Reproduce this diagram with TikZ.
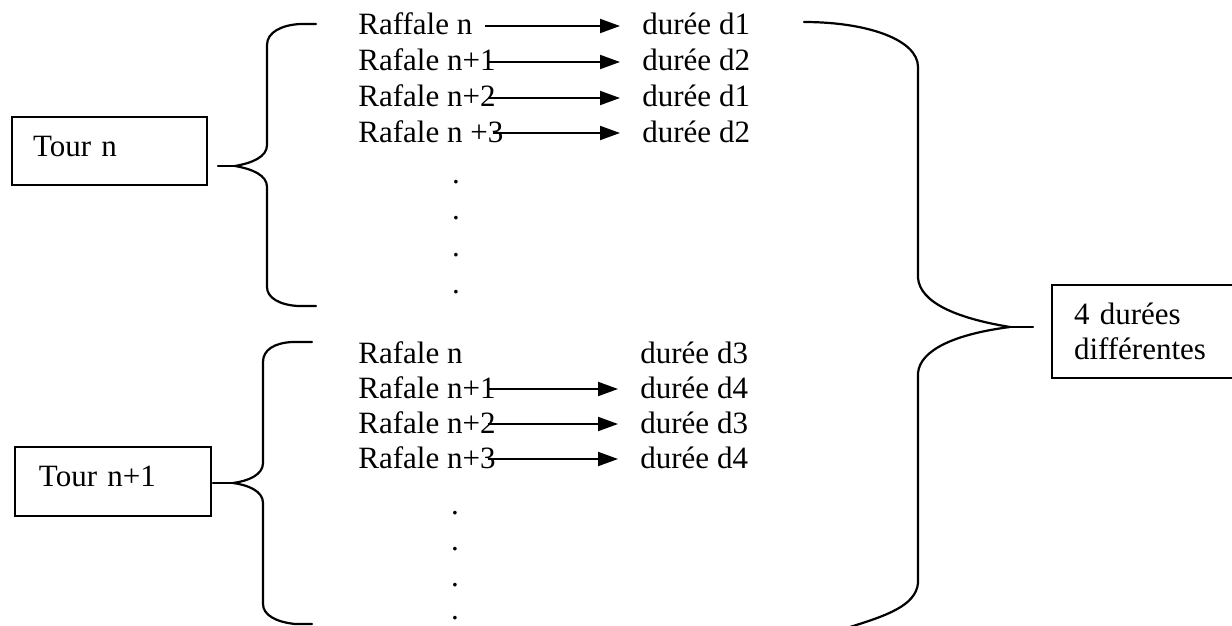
\documentclass[tikz,border=0pt]{standalone}
\usepackage{fontspec}
\setmainfont{Liberation Serif}
\usetikzlibrary{arrows.meta}
\begin{document}
\begin{tikzpicture}[x=0.5pt,y=-0.5pt,
  txt/.style={font=\fontsize{15.5pt}{17.5pt}\selectfont, inner sep=0pt, anchor=base west},
  dotnode/.style={font=\fontsize{15.5pt}{17.5pt}\selectfont, inner sep=0pt, anchor=base},
  arr/.style={line width=1pt, -{Triangle[length=10pt,width=7pt]}, shorten >=11pt},
  bracepath/.style={line width=1.1pt, line join=round, line cap=round},
  tourbox/.style={draw, line width=1pt, anchor=north west, align=left,
    font=\fontsize{15.5pt}{17.5pt}\selectfont, text height=10pt, text depth=5pt}]
\clip (0,0) rectangle (1232,626);
\fill[white] (0,0) rectangle (1232,626);

% boxes
\node[tourbox, minimum height=34pt, inner xsep=10.5pt, text width=76.5pt] (tn) at (11,116) {Tour n};
\node[tourbox, minimum height=34.5pt, inner xsep=12pt, text width=74pt] (tn1) at (14,446) {Tour n+1};
\node[draw, line width=1pt, anchor=north west, align=left, minimum height=46.5pt,
  inner xsep=11pt, text width=90pt, font=\fontsize{15.5pt}{17.5pt}\selectfont] (dd) at (1051,284) {4 durées\\différentes};

% upper group
\node[txt] (r1) at (358,35) {Raffale n};
\node[txt] (r2) at (358,71) {Rafale n+1};
\node[txt] (r3) at (358,107) {Rafale n+2};
\node[txt] (r4) at (358,142) {Rafale n +3};
\node[txt] (d1) at (642,35) {durée d1};
\node[txt] (d2) at (642,71) {durée d2};
\node[txt] (d3) at (642,107) {durée d1};
\node[txt] (d4) at (642,142) {durée d2};
\coordinate (s1) at (485,26);
\coordinate (s2) at (488,62);
\coordinate (s3) at (488,98);
\coordinate (s4) at (493,133);
\draw[arr] (s1) -- (s1 -| d1.west);
\draw[arr] (s2) -- (s2 -| d2.west);
\draw[arr] (s3) -- (s3 -| d3.west);
\draw[arr] (s4) -- (s4 -| d4.west);
\node[dotnode] (p1) at (456,183.5) {.};
\node[dotnode] (p2) at (456,219.5) {.};
\node[dotnode] (p3) at (456,256.5) {.};
\node[dotnode] (p4) at (456,293.5) {.};

% lower group
\node[txt] (q1) at (358,363) {Rafale n};
\node[txt] (q2) at (358,398) {Rafale n+1};
\node[txt] (q3) at (358,433) {Rafale n+2};
\node[txt] (q4) at (358,468) {Rafale n+3};
\node[txt] (e1) at (640,363) {durée d3};
\node[txt] (e2) at (640,398) {durée d4};
\node[txt] (e3) at (640,433) {durée d3};
\node[txt] (e4) at (640,468) {durée d4};
\coordinate (t2) at (488,389);
\coordinate (t3) at (488,424);
\coordinate (t4) at (488,459);
\draw[arr] (t2) -- (t2 -| e2.west);
\draw[arr] (t3) -- (t3 -| e3.west);
\draw[arr] (t4) -- (t4 -| e4.west);
\node[dotnode] (o1) at (455,514.5) {.};
\node[dotnode] (o2) at (455,550.5) {.};
\node[dotnode] (o3) at (455,586.5) {.};
\node[dotnode] (o4) at (455,619) {.};

% brace for Tour n
\coordinate (b1tip) at (235,166);
\coordinate (b1end) at (218,166);
\draw[bracepath] (316,24) -- (300,24) .. controls (282,25) and (267,32) .. (267,45)
  -- (267,145) .. controls (267,157) and (252,163) .. (b1tip)
  .. controls (252,169) and (267,175) .. (267,187)
  -- (267,287) .. controls (267,298) and (280,305) .. (298,306) -- (316,306);
\draw[bracepath] (b1tip) -- (b1end);

% brace for Tour n+1
\coordinate (b2tip) at (233,483);
\coordinate (b2end) at (213,483);
\draw[bracepath] (312,342) -- (292,342) .. controls (274,343) and (263,350) .. (263,362)
  -- (263,463) .. controls (263,475) and (248,481) .. (b2tip)
  .. controls (248,485) and (263,491) .. (263,503)
  -- (263,604) .. controls (263,615) and (276,622) .. (295,624) -- (312,624);
\draw[bracepath] (b2tip) -- (b2end);

% big brace
\coordinate (b3tip) at (1010,327);
\coordinate (b3end) at (1033,327);
\draw[bracepath] (804,22) .. controls (868,22) and (918,40) .. (918,67)
  -- (918,278) .. controls (920,302) and (955,318) .. (b3tip)
  .. controls (955,334) and (920,350) .. (918,373)
  -- (918,583) .. controls (916,606) and (885,616) .. (850,627);
\draw[bracepath] (b3tip) -- (b3end);
\end{tikzpicture}
\end{document}
